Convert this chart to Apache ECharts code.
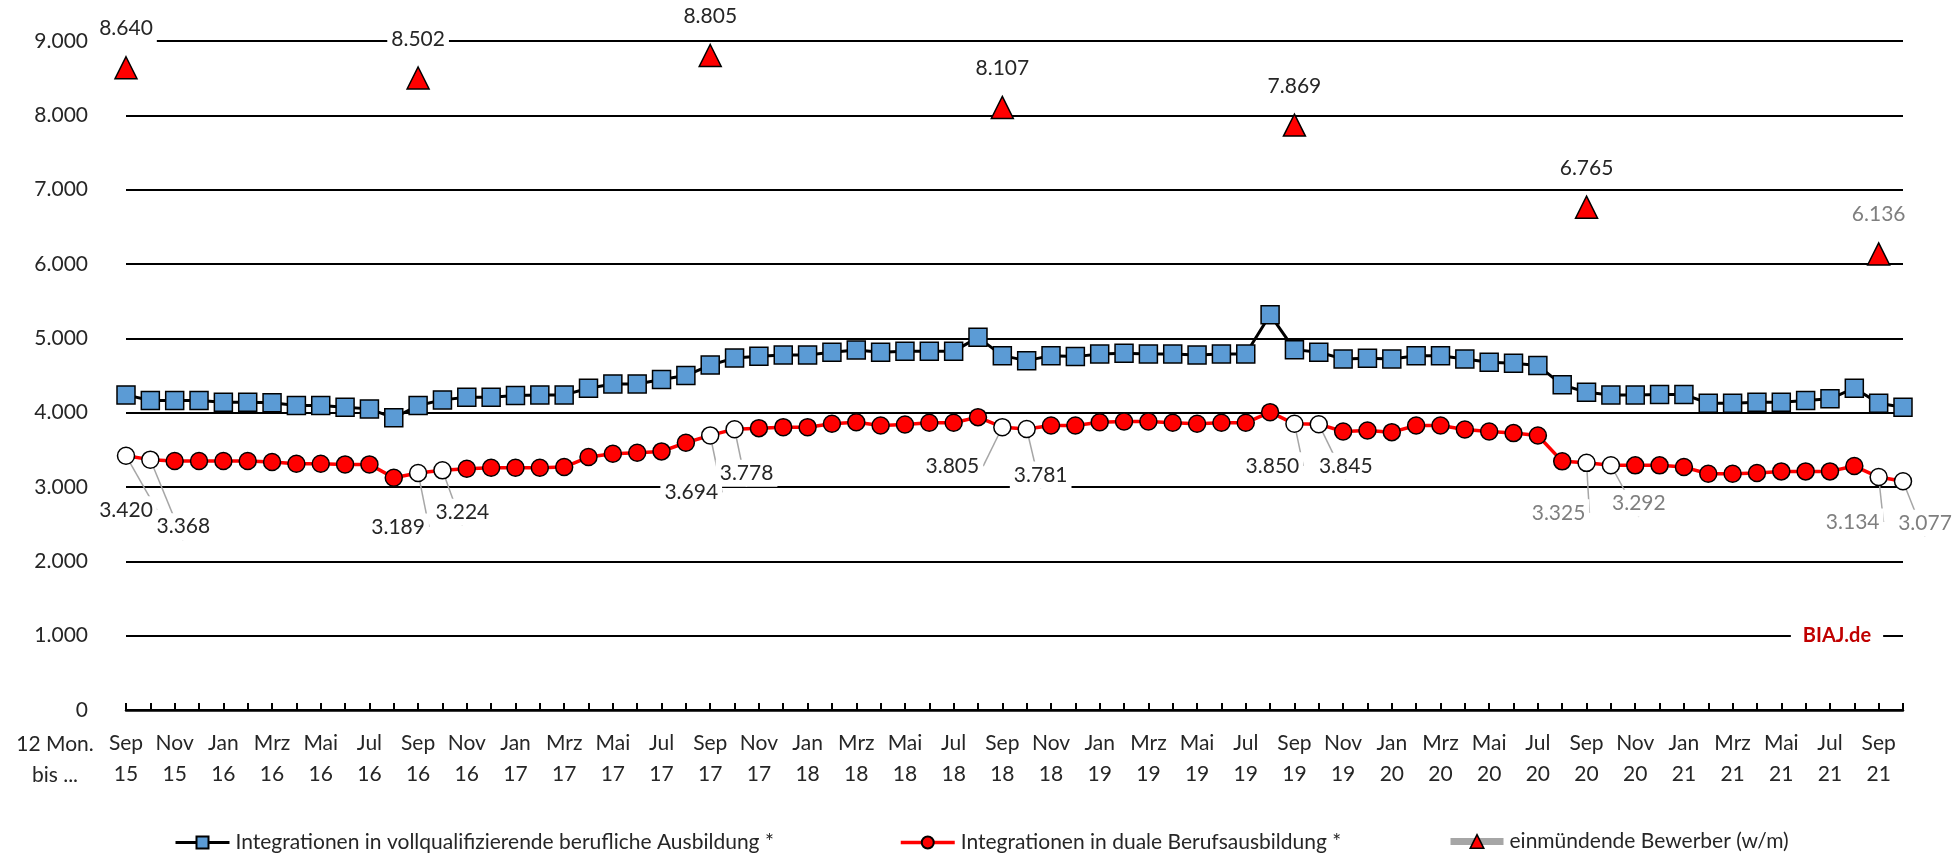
<!DOCTYPE html>
<html>
<head>
<meta charset="utf-8">
<script src="https://cdn.jsdelivr.net/npm/echarts@6/dist/echarts.min.js"></script>
<style>
html,body{margin:0;padding:0;background:#fff;}
#chart{width:1957px;height:855px;}
</style>
</head>
<body>
<div id="chart"></div>
<script>
const categories = ["Sep 15","Okt 15","Nov 15","Dez 15","Jan 16","Feb 16","Mrz 16","Apr 16","Mai 16","Jun 16","Jul 16","Aug 16","Sep 16","Okt 16","Nov 16","Dez 16","Jan 17","Feb 17","Mrz 17","Apr 17","Mai 17","Jun 17","Jul 17","Aug 17","Sep 17","Okt 17","Nov 17","Dez 17","Jan 18","Feb 18","Mrz 18","Apr 18","Mai 18","Jun 18","Jul 18","Aug 18","Sep 18","Okt 18","Nov 18","Dez 18","Jan 19","Feb 19","Mrz 19","Apr 19","Mai 19","Jun 19","Jul 19","Aug 19","Sep 19","Okt 19","Nov 19","Dez 19","Jan 20","Feb 20","Mrz 20","Apr 20","Mai 20","Jun 20","Jul 20","Aug 20","Sep 20","Okt 20","Nov 20","Dez 20","Jan 21","Feb 21","Mrz 21","Apr 21","Mai 21","Jun 21","Jul 21","Aug 21","Sep 21","Okt 21"];

const vollqualifizierend = [
  4239,4163,4163,4163,4141,4141,4132,4096,4096,4074,4051,3931,4096,4172,4208,4208,4230,4239,4239,4329,4387,4387,4445,4499,4640,
  4736,4758,4776,4776,4812,4843,4812,4825,4825,4825,5013,4767,4700,4767,4754,4790,4799,4790,4790,4776,4790,4790,5318,4848,4812,
  4723,4732,4723,4767,4767,4723,4678,4664,4633,4374,4275,4239,4239,4244,4244,4128,4128,4141,4141,4163,4186,4329,4128,4074
];

const dual = [
  3420,3368,3349,3349,3349,3349,3336,3313,3313,3304,3304,3125,3189,3224,3246,3260,3260,3260,3268,3403,3447,3461,3479,3595,3694,
  3778,3792,3805,3805,3850,3872,3828,3841,3864,3864,3940,3805,3781,3828,3828,3872,3881,3881,3864,3850,3864,3864,4007,3850,3845,
  3747,3761,3738,3828,3828,3774,3747,3725,3693,3345,3325,3292,3291,3291,3268,3179,3179,3188,3210,3210,3210,3282,3134,3077
];

const bewerber = [
  8640,null,null,null,null,null,null,null,null,null,null,null,
  8502,null,null,null,null,null,null,null,null,null,null,null,
  8805,null,null,null,null,null,null,null,null,null,null,null,
  8107,null,null,null,null,null,null,null,null,null,null,null,
  7869,null,null,null,null,null,null,null,null,null,null,null,
  6765,null,null,null,null,null,null,null,null,null,null,null,
  6136,null
];

const yTicks = [0,1000,2000,3000,4000,5000,6000,7000,8000,9000];

const seriesNames = [
  "Integrationen in vollqualifizierende berufliche Ausbildung *",
  "Integrationen in duale Berufsausbildung *",
  "einmündende Bewerber (w/m)"
];

// label layout (offsets in px from point) for the highlighted Sep/Okt points
const dualLabelLayout = {0:[0,54],1:[33,67],12:[-20,54],13:[20,42],24:[-19,57],25:[12,44],36:[-50,39],37:[14,46],48:[-22,42],49:[27,42],60:[-28,50],61:[28,38],72:[-26,45],73:[22,42]};
const grayLabelIdx = [60,61,72,73];

function fmt(v){
  if (v === 0) return '0';
  const th = Math.floor(v/1000), r = v % 1000;
  return th + '.' + String(r).padStart(3,'0');
}

const FONT = 'Lato, "Open Sans", sans-serif';
const TXT = '#262626';

const dualData = dual.map((v,i) => {
  const lay = dualLabelLayout[i];
  if (!lay) return v;
  return {
    value: v,
    itemStyle: {color: '#ffffff'},
    label: {
      show: true, position: 'inside', offset: lay,
      formatter: p => fmt(p.value),
      color: grayLabelIdx.includes(i) ? '#7f7f7f' : TXT
    }
  };
});

const bewerberData = bewerber.map((v,i) => {
  if (v === null) return null;
  return {value: v, label: {color: i >= 72 ? '#7f7f7f' : TXT}};
});

const legendText = {fontSize: 21, color: TXT, fontFamily: FONT, padding: [0,0,0,1]};

const chart = echarts.init(document.getElementById('chart'), null, {renderer:'canvas'});
chart.setOption({
  animation: false,
  backgroundColor: '#ffffff',
  textStyle: {fontFamily: FONT},
  grid: {left: 126, right: 54, top: 41, bottom: 145, outerBoundsMode: 'none'},
  xAxis: {
    type: 'category',
    data: categories,
    boundaryGap: false,
    axisLine: {lineStyle: {color: '#000', width: 2.5}},
    axisTick: {show: true, inside: true, length: 7, interval: 0, lineStyle: {color: '#000', width: 2}},
    axisLabel: {
      interval: 1, margin: 18, fontSize: 21, lineHeight: 31, color: TXT, fontFamily: FONT,
      formatter: v => v.replace(' ', '\n')
    },
    splitLine: {show: false}
  },
  yAxis: {
    type: 'value', min: yTicks[0], max: yTicks[yTicks.length-1], interval: 1000,
    axisLine: {show: false}, axisTick: {show: false},
    axisLabel: {fontSize: 21, color: TXT, margin: 38, fontFamily: FONT, formatter: v => fmt(v)},
    splitLine: {lineStyle: {color: '#000', width: 2}}
  },
  legend: [
    {data: [seriesNames[0]], left: 169, top: 827, itemWidth: 54, itemHeight: 15,
     lineStyle: {color: '#000', width: 3}, textStyle: legendText},
    {data: [seriesNames[1]], left: 894, top: 827, itemWidth: 54, itemHeight: 15,
     lineStyle: {color: '#ff0000', width: 3.5}, textStyle: legendText},
    {data: [seriesNames[2]], left: 1442, top: 826, itemWidth: 53, itemHeight: 17,
     lineStyle: {color: '#a6a6a6', width: 7},
     itemStyle: {color: '#ff0000', borderColor: '#000', borderWidth: 1.5},
     textStyle: legendText}
  ],
  graphic: [
    {type: 'text', x: 55, y: 744, style: {text: '12 Mon.', textAlign: 'center', textVerticalAlign: 'middle', fontSize: 21, fontFamily: FONT, fill: TXT}},
    {type: 'text', x: 55, y: 775, style: {text: 'bis ...', textAlign: 'center', textVerticalAlign: 'middle', fontSize: 21, fontFamily: FONT, fill: TXT}},
    {type: 'text', x: 1837, y: 636, z: 10, style: {text: 'BIAJ.de', textAlign: 'center', textVerticalAlign: 'middle', fontSize: 20, fontWeight: 'bold', fontFamily: FONT, fill: '#c00000', backgroundColor: '#fff', padding: [3, 12]}}
  ],
  series: [
    {
      name: seriesNames[0], type: 'line', data: vollqualifizierend,
      symbol: 'rect', symbolSize: 18, showAllSymbol: true,
      lineStyle: {color: '#000', width: 3},
      itemStyle: {color: '#5b9bd5', borderColor: '#000', borderWidth: 1.5},
      label: {show: false}, z: 2
    },
    {
      name: seriesNames[1], type: 'line', data: dualData,
      symbol: 'circle', symbolSize: 17, showAllSymbol: true,
      lineStyle: {color: '#ff0000', width: 3.5},
      itemStyle: {color: '#ff0000', borderColor: '#000', borderWidth: 1.5},
      label: {show: false, fontSize: 21, fontFamily: FONT, backgroundColor: '#fff', padding: [3, 4]},
      labelLine: {show: true, lineStyle: {color: '#a6a6a6', width: 1.5}},
      z: 3
    },
    {
      name: seriesNames[2], type: 'line', data: bewerberData,
      connectNulls: false, showAllSymbol: true,
      symbol: 'triangle', symbolSize: 22,
      lineStyle: {color: '#a6a6a6', width: 7},
      itemStyle: {color: '#ff0000', borderColor: '#000', borderWidth: 1.5},
      label: {show: true, position: 'top', distance: 14, fontSize: 21, fontFamily: FONT,
              formatter: p => fmt(p.value), backgroundColor: '#fff', padding: [3, 4]},
      z: 4
    }
  ]
});
</script>
</body>
</html>
